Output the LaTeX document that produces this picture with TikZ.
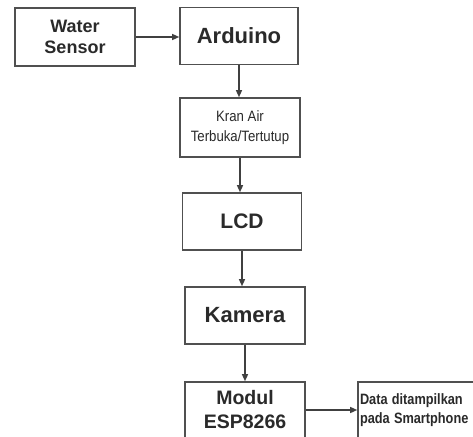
\documentclass[tikz,border=0pt]{standalone}
\usepackage{fontspec}
\setmainfont{Liberation Sans}
\usetikzlibrary{arrows.meta}
\definecolor{boxgray}{HTML}{505050}
\definecolor{linegray}{HTML}{404040}
\definecolor{txtgray}{HTML}{2A2A2A}
\begin{document}
\begin{tikzpicture}[x=1pt,y=-1pt,
  box/.style={draw=boxgray, line width=1.6pt, fill=white, inner sep=0pt, text=txtgray, align=center},
  arr/.style={draw=linegray, line width=1.3pt, -{Triangle[length=7pt,width=6pt]}}]
\useasboundingbox (0,0) rectangle (473,436);
\clip (0,0) rectangle (473,436);
\node[box, minimum width=120pt, minimum height=58pt, font=\bfseries\fontsize{18}{21}\selectfont] (ws) at (75,37) {Water\\Sensor};
\node[box, minimum width=118pt, minimum height=57pt, font=\bfseries\fontsize{22}{24}\selectfont] (ard) at (239,36) {Arduino};
\node[box, minimum width=120pt, minimum height=59pt, font=\fontsize{15}{20}\selectfont] (kran) at (240,127.5) {\scalebox{0.88}[1]{Kran Air}\\\scalebox{0.88}[1]{Terbuka/Tertutup}};
\node[box, minimum width=119pt, minimum height=57pt, font=\bfseries\fontsize{21}{24}\selectfont] (lcd) at (242,221.5) {LCD};
\node[box, minimum width=120pt, minimum height=57pt, font=\bfseries\fontsize{22}{24}\selectfont] (kam) at (245,315.5) {Kamera};
\node[box, minimum width=120pt, minimum height=56pt, font=\bfseries\fontsize{19.5}{24}\selectfont] (mod) at (245,410) {Modul\\ESP8266};
\node[box, minimum width=120pt, minimum height=56pt, align=left, text width=116pt, font=\bfseries\fontsize{15}{19}\selectfont] (data) at (418,410) {\scalebox{0.85}[1]{Data ditampilkan}\\\scalebox{0.85}[1]{pada Smartphone}};
\draw[arr] (ws.east) -- (ws.east -| ard.west);
\draw[arr] (ard.south) -- (ard.south |- kran.north);
\draw[arr] (kran.south) -- (kran.south |- lcd.north);
\draw[arr] (lcd.south) -- (lcd.south |- kam.north);
\draw[arr] (kam.south) -- (kam.south |- mod.north);
\draw[arr] (mod.east) -- (mod.east -| data.west);
\end{tikzpicture}
\end{document}
